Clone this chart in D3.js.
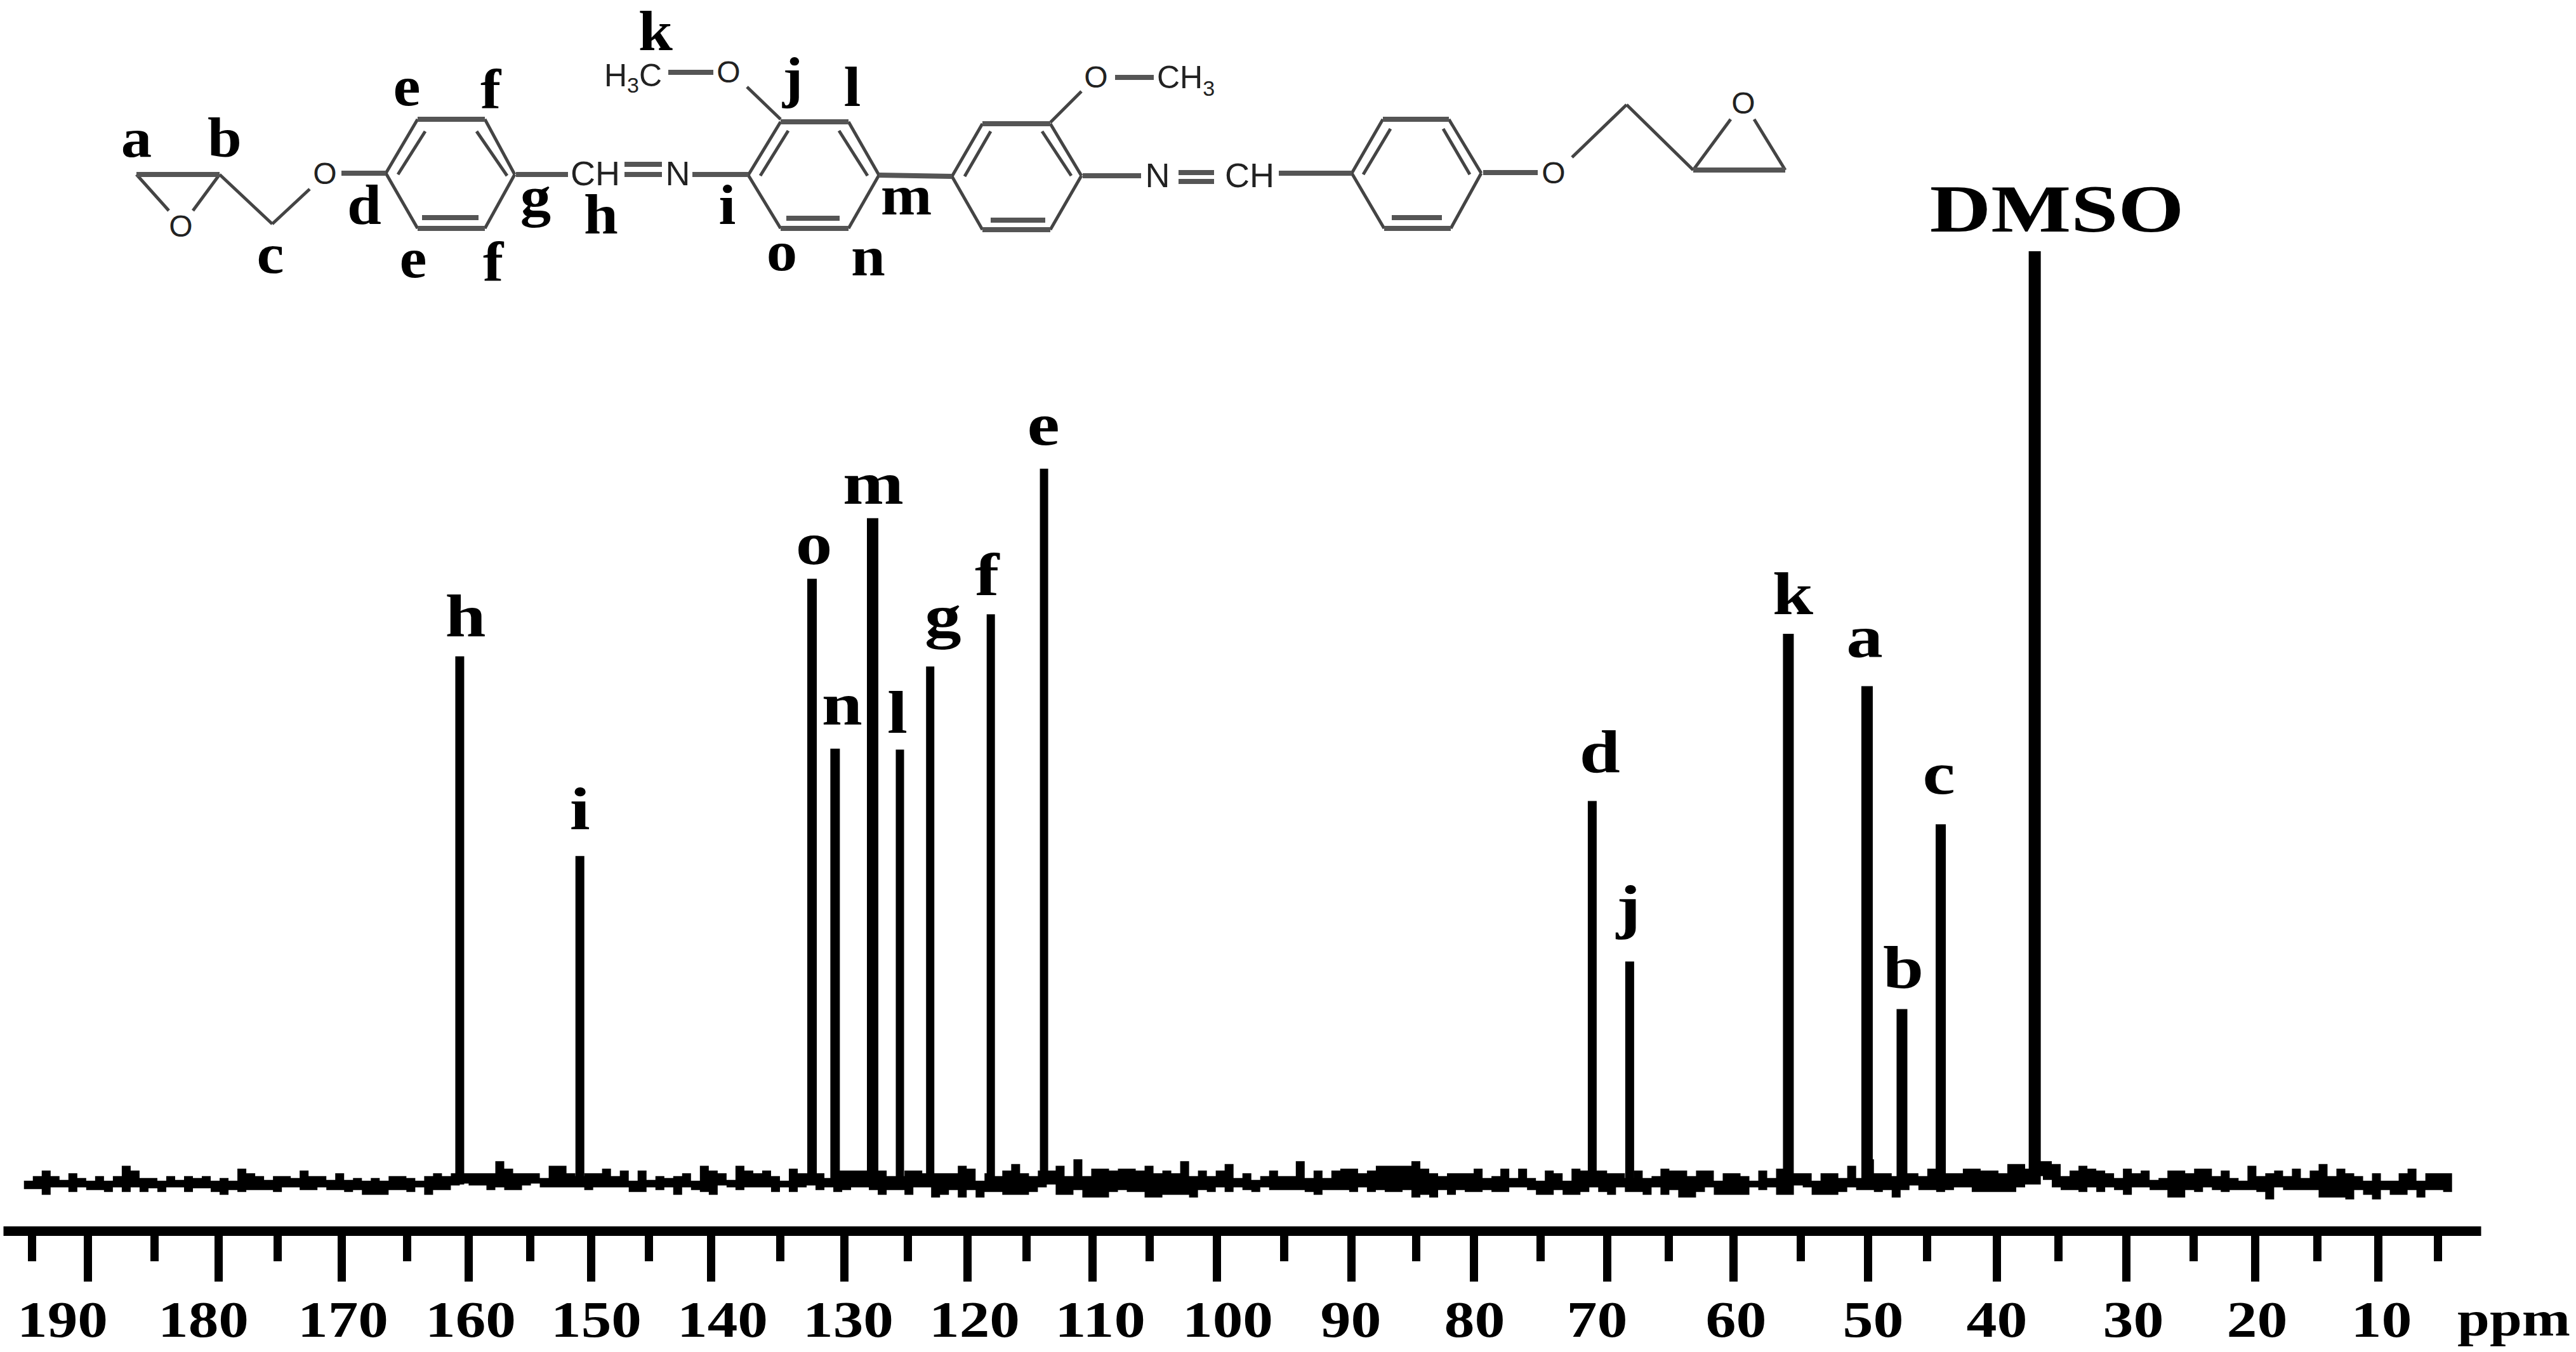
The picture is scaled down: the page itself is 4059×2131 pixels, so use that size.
<!DOCTYPE html>
<html>
<head>
<meta charset="utf-8">
<title>13C NMR spectrum</title>
<script src="https://cdn.jsdelivr.net/npm/d3@7"></script>
<style>
  html, body { margin: 0; padding: 0; background: #fff; }
  svg { display: block; }
  text { font-family: "Liberation Serif", serif; font-weight: bold; fill: #000; }
  .chem { font-family: "Liberation Sans", sans-serif; font-weight: normal; fill: #222; }
</style>
</head>
<body>
<svg id="chart" width="4059" height="2131"></svg>
<script>
// peaks (ppm, and height with DMSO = 1000)
const peakLabels = ["h", "i", "o", "n", "m", "l", "g", "f", "e", "d", "j", "k", "a", "b", "c", "DMSO"];
const peakPpm = [160.7, 150.9, 132.5, 130.7, 127.75, 125.6, 123.1, 118.0, 113.65, 71.1, 68.15, 55.9, 50.05, 47.1, 44.0, 36.9];
const peakHeight = [566, 352, 649, 467, 714, 466, 555, 611, 767, 411, 239, 590, 534, 188, 386, 1000];

const majorTicks = [190, 180, 170, 160, 150, 140, 130, 120, 110, 100, 90, 80, 70, 60, 50, 40, 30, 20, 10];
const minorTicks = [195, 185, 175, 165, 155, 145, 135, 125, 115, 105, 95, 85, 75, 65, 55, 45, 35, 25, 15, 5];

// baseline noise, top and bottom edge of the trace, left to right
const noiseUpper = [
  4,9,15,9,5,12,7,4,9,4,9,20,15,7,7,4,9,5,9,7,9,4,7,4,17,12,9,5,9,9,7,15,9,9,5,12,5,7,4,7,4,9,9,7,4,9,12,9,12,12,12,12,12,25,17,
  12,12,12,7,20,20,12,9,12,12,17,9,15,4,15,5,9,7,9,12,4,20,15,12,5,20,15,12,15,9,4,17,12,12,12,7,15,15,15,15,15,15,9,9,15,15,12,12,12,12,20,17,4,12,9,15,
  22,12,9,15,15,20,9,27,9,17,17,15,17,17,15,20,12,15,12,25,9,15,9,15,22,7,12,5,9,15,9,9,25,7,15,7,15,17,17,12,15,20,20,20,20,25,17,12,9,12,12,12,17,7,9,
  17,7,17,7,4,15,12,4,17,15,15,15,12,12,7,15,7,9,17,15,15,9,15,15,4,12,12,9,4,15,7,17,12,12,12,4,12,12,7,20,7,27,12,12,9,12,12,9,17,12,12,12,17,17,15,
  15,12,22,22,17,25,25,22,9,15,20,17,15,12,7,17,12,15,5,7,15,15,12,17,17,9,15,7,4,20,9,12,15,9,17,7,15,22,9,17,12,9,4,12,4,4,12,17,4,12,12,12,5
];
const noiseLower = [
  -5,-5,-11,-3,-3,-8,-3,-6,-6,-8,-3,-8,-3,-8,-4,-8,-3,-3,-8,-4,-4,-8,-11,-6,-8,-6,-6,-6,-8,-3,-3,-6,-6,-3,-6,-6,-8,-6,-11,-11,-11,-6,-6,-8,-3,-11,-6,-6,-1,1,-1,-1,-6,-3,-6,
  -6,-1,1,-3,-3,-3,-3,-3,-6,-3,-3,-3,-3,-8,-8,-3,-6,-3,-11,-3,-6,-8,-11,-1,-3,-6,-3,-3,-3,-8,-3,-8,-3,-1,-6,-3,-8,-6,-3,-3,-6,-11,-6,-6,-11,-3,-3,-14,-11,-6,-14,-6,-14,-8,-8,-11,
  -11,-11,-8,-3,0,-11,-11,-6,-14,-14,-14,-8,-6,-8,-8,-14,-14,-11,-11,-11,-14,-6,-8,-3,-8,-3,-6,-8,-3,-6,-6,-6,-6,-8,-11,-6,-6,-6,-8,-3,-8,-6,-8,-8,-6,-14,-11,-14,-6,-11,-6,-8,-8,-6,-8,
  -8,-3,-3,-6,-11,-11,-6,-11,-11,-8,-3,-8,-11,-3,-8,-8,-11,-3,-11,-6,-14,-14,-8,-3,-11,-11,-11,-11,-3,-6,-3,-11,-11,-1,-3,-11,-11,-11,-8,-3,-6,-6,-8,-6,-14,-6,-1,-6,-6,-8,-6,-3,-3,-8,-8,
  -8,-8,-8,-3,0,9,5,-3,-6,-6,-8,-3,-8,-3,-6,-11,-3,-3,-6,-6,-14,-14,-6,-8,-3,-6,-8,-6,-6,-6,-8,-16,-3,-6,-6,-6,-6,-14,-14,-14,-16,-6,-11,-16,-6,-11,-11,-6,-14,-6,-6,-8,-6
];

// the hand ruled ppm axis is not even, so the scale is pinned to every drawn tick
const axisPpm = [197.2, 195, 190, 185, 180, 175, 170, 165, 160, 155, 150, 145, 140, 135, 130, 125, 120, 115, 110, 105, 100, 95, 90, 85, 80, 75, 70, 65, 60, 55, 50, 45, 40, 35, 30, 25, 20, 15, 10, 5, 1.7];
const axisPx = [5, 50, 138, 243, 344, 437, 538, 641, 738, 835, 931, 1022, 1120, 1229, 1330, 1430, 1524, 1617, 1721, 1811, 1917, 2023, 2129, 2231, 2322, 2427, 2532, 2629, 2731, 2837, 2943, 3036, 3146, 3243, 3350, 3456, 3553, 3651, 3747, 3841, 3909];

const x = d3.scaleLinear().domain(axisPpm).range(axisPx);
const y = d3.scaleLinear().domain([0, 1000]).range([1867, 396]);
const noiseX = d3.scaleLinear().domain([0, noiseUpper.length - 1]).range([x(195.6), x(3.9)]);

const svg = d3.select("#chart");

// noise band
const band = d3.area()
    .x((d, i) => noiseX(i))
    .y0((d, i) => y(noiseLower[i]))
    .y1(d => y(d))
    .curve(d3.curveStepAfter);

svg.append("path")
    .datum(noiseUpper)
    .attr("d", band)
    .attr("fill", "#000");

// peaks
const peakStroke = [14, 14, 15, 15, 18, 13, 13, 13, 13, 14, 14, 17, 18, 17, 16, 19];

svg.append("g").selectAll("line")
    .data(peakPpm)
    .join("line")
    .attr("x1", d => x(d))
    .attr("x2", d => x(d))
    .attr("y1", y(0))
    .attr("y2", (d, i) => y(peakHeight[i]))
    .attr("stroke", "#000")
    .attr("stroke-width", (d, i) => peakStroke[i]);

// peak letters, nudged by hand like the original
const labelDx = [9, 0, 3, 11, 1, -4, 20, -6, -1, 12, -2, 7, -4, 2, -3, 35];
const labelGap = [31, 42, 23, 38, 23, 27, 47, 30, 38, 45, 54, 31, 45, 33, 48, 31];

svg.append("g").selectAll("text")
    .data(peakLabels)
    .join("text")
    .attr("text-anchor", "middle")
    .attr("font-size", d => d === "DMSO" ? 106 : 96)
    .attr("transform", (d, i) => {
        const px = x(peakPpm[i]) + labelDx[i];
        const py = y(peakHeight[i]) - labelGap[i];
        return "translate(" + px + "," + py + ") scale(" + (d === "DMSO" ? 1.26 : 1.2) + ",1)";
    })
    .text(d => d);

// axis
const axisG = svg.append("g").attr("transform", "translate(0,1940)");

axisG.append("g")
    .call(d3.axisBottom(x).tickValues(minorTicks).tickSize(48).tickSizeOuter(0).tickFormat(""))
    .call(g => g.select(".domain").remove());

const labelNudge = [-40, -24, 2, 3, 8, 18, 6, 11, 12, 17, -1, 1, -16, 4, 8, 0, 11, 3, 5];

const major = axisG.append("g")
    .call(d3.axisBottom(x).tickValues(majorTicks).tickSize(80).tickSizeOuter(0));

major.attr("font-size", null).attr("font-family", null);
major.select(".domain").attr("stroke", "#000").attr("stroke-width", 15);
axisG.selectAll(".tick line").attr("stroke", "#000").attr("stroke-width", 13);
major.selectAll(".tick text")
    .attr("y", 167)
    .attr("dy", 0)
    .attr("dx", (d, i) => labelNudge[i])
    .attr("font-size", 81)
    .attr("textLength", d => d >= 100 ? 143 : 96)
    .attr("lengthAdjust", "spacingAndGlyphs");

svg.append("text")
    .attr("x", 3961)
    .attr("y", 2105)
    .attr("text-anchor", "middle")
    .attr("font-size", 78)
    .attr("textLength", 178)
    .attr("lengthAdjust", "spacingAndGlyphs")
    .text("ppm");

// molecule drawn above the spectrum
const ring = (l, tl, tr, r, br, bl, a, b) => [
    [...l, ...tl], [...tr, ...r], [...r, ...br], [...bl, ...l], a, b
];
const thinBonds = [
    [215, 275, 266, 332], [346, 275, 304, 332], [346, 275, 429, 353], [429, 353, 488, 298],
    ...ring([608, 273], [658, 188], [764, 188], [811, 275], [764, 360], [658, 360], [670, 207, 627, 275], [751, 207, 799, 277]),
    ...ring([1179, 276], [1230, 192], [1337, 192], [1385, 276], [1337, 360], [1230, 360], [1242, 206, 1198, 277], [1322, 206, 1367, 277]),
    ...ring([1500, 278], [1548, 195], [1655, 195], [1704, 277], [1655, 362], [1548, 362], [1561, 207, 1520, 278], [1642, 207, 1688, 277]),
    ...ring([2130, 273], [2179, 188], [2283, 188], [2334, 273], [2286, 360], [2181, 360], [2191, 203, 2148, 275], [2274, 203, 2316, 275]),
    [1230, 188, 1177, 137], [1655, 193, 1704, 144],
    [2477, 248, 2563, 165], [2563, 165, 2668, 268], [2668, 268, 2727, 188], [2813, 268, 2764, 188]
];
const thickBonds = [
    [215, 275, 346, 275], [538, 273, 608, 273],
    [658, 188, 764, 188], [658, 360, 764, 360], [665, 343, 754, 343],
    [813, 275, 895, 275], [984, 259, 1043, 259], [984, 275, 1043, 275], [1091, 275, 1179, 275],
    [1230, 192, 1337, 192], [1230, 360, 1337, 360], [1239, 344, 1323, 344], [1053, 114, 1124, 114],
    [1385, 276, 1500, 278],
    [1548, 195, 1655, 195], [1548, 362, 1655, 362], [1561, 347, 1647, 347], [1757, 122, 1818, 122],
    [1706, 277, 1798, 277], [1857, 272, 1913, 272], [1857, 286, 1913, 286], [2015, 273, 2130, 273],
    [2179, 188, 2283, 188], [2181, 360, 2286, 360], [2193, 343, 2272, 343], [2337, 272, 2423, 272],
    [2668, 268, 2813, 268]
];

const mol = svg.append("g");
[[thinBonds, 5, "#444"], [thickBonds, 8, "#555"]].forEach(([bonds, w, col]) => {
    mol.append("g").selectAll("line")
        .data(bonds)
        .join("line")
        .attr("x1", d => d[0]).attr("y1", d => d[1])
        .attr("x2", d => d[2]).attr("y2", d => d[3])
        .attr("stroke", col)
        .attr("stroke-width", w);
});

const atoms = [
    ["O", 285, 373, 48], ["O", 512, 290, 48], ["CH", 938, 292, 54], ["N", 1068, 292, 54],
    ["O", 1148, 130, 48], ["O", 1727, 138, 48], ["N", 1824, 295, 54], ["CH", 1969, 295, 54],
    ["O", 2448, 289, 48], ["O", 2747, 179, 48]
];
mol.append("g").selectAll("text")
    .data(atoms)
    .join("text")
    .attr("class", "chem")
    .attr("text-anchor", "middle")
    .attr("x", d => d[1])
    .attr("y", d => d[2])
    .attr("font-size", d => d[3])
    .text(d => d[0]);

const leftMethyl = mol.append("text").attr("class", "chem").attr("x", 952).attr("y", 136).attr("font-size", 50);
leftMethyl.append("tspan").text("H");
leftMethyl.append("tspan").attr("font-size", 34).attr("dy", 10).text("3");
leftMethyl.append("tspan").attr("dy", -10).text("C");

const rightMethyl = mol.append("text").attr("class", "chem").attr("x", 1823).attr("y", 139).attr("font-size", 50);
rightMethyl.append("tspan").text("CH");
rightMethyl.append("tspan").attr("font-size", 34).attr("dy", 12).text("3");

// carbon letters on the molecule
const siteLabels = [
    ["a", 215, 247], ["b", 354, 247], ["c", 426, 430], ["d", 574, 353], ["e", 641, 166], ["f", 773, 170],
    ["e", 651, 437], ["f", 777, 442], ["g", 844, 340], ["h", 947, 368], ["i", 1146, 353], ["k", 1033, 79],
    ["j", 1249, 152], ["l", 1343, 167], ["m", 1428, 338], ["o", 1232, 426], ["n", 1368, 434]
];
mol.append("g").selectAll("text")
    .data(siteLabels)
    .join("text")
    .attr("text-anchor", "middle")
    .attr("font-size", 88)
    .attr("transform", d => "translate(" + d[1] + "," + d[2] + ") scale(1.1,1)")
    .text(d => d[0]);
</script>
</body>
</html>
